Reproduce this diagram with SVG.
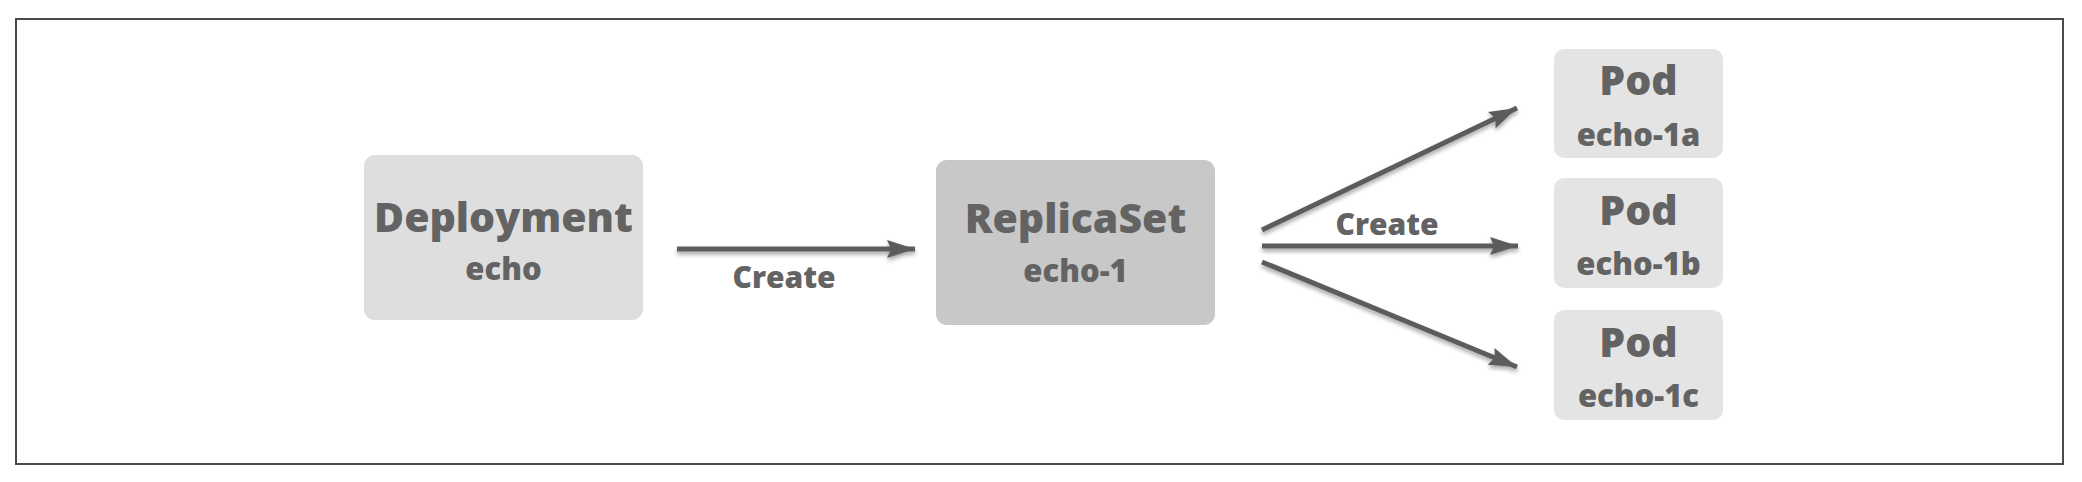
<svg xmlns="http://www.w3.org/2000/svg" width="2082" height="482" viewBox="0 0 2082 482">
<defs>
<style>
.t{font-family:"Open Sans","Liberation Sans",sans-serif;font-weight:800;fill:#636363;text-anchor:middle}
.big{font-size:41px}
.sm{font-size:31px}
.lbl{font-size:30px}
.arr{stroke:#5c5c5c;stroke-width:5;fill:none;marker-end:url(#ah);filter:url(#sh)}
</style>
<marker id="ah" markerUnits="userSpaceOnUse" markerWidth="30" markerHeight="20" refX="28" refY="10" orient="auto" viewBox="0 0 30 20">
<path d="M0,1 L28,10 L0,19 L4,10 Z" fill="#5c5c5c"/>
</marker>
<filter id="sh" filterUnits="userSpaceOnUse" x="0" y="0" width="2082" height="482">
<feGaussianBlur in="SourceAlpha" stdDeviation="2"/>
<feOffset dx="0" dy="3" result="b"/>
<feComponentTransfer><feFuncA type="linear" slope="0.35"/></feComponentTransfer>
<feMerge><feMergeNode/><feMergeNode in="SourceGraphic"/></feMerge>
</filter>
</defs>
<rect x="0" y="0" width="2082" height="482" fill="#ffffff"/>
<rect x="16" y="19" width="2047" height="445" fill="none" stroke="#4a4a4a" stroke-width="2"/>
<g id="deployment">
<rect x="364" y="155" width="279" height="165" rx="11" fill="#dedede"/>
<text class="t big" x="503.5" y="232">Deployment</text>
<text class="t sm" x="503.5" y="280">echo</text>
</g>
<g id="replicaset">
<rect x="936" y="160" width="279" height="165" rx="11" fill="#c8c8c8"/>
<text class="t big" x="1075.5" y="233">ReplicaSet</text>
<text class="t sm" x="1075.5" y="282">echo-1</text>
</g>
<g id="pod-a">
<rect x="1554" y="49" width="169" height="109" rx="10" fill="#e4e4e4"/>
<text class="t big" x="1638.5" y="95">Pod</text>
<text class="t sm" x="1638.5" y="146">echo-1a</text>
</g>
<g id="pod-b">
<rect x="1554" y="178" width="169" height="110" rx="10" fill="#e4e4e4"/>
<text class="t big" x="1638.5" y="225">Pod</text>
<text class="t sm" x="1638.5" y="275">echo-1b</text>
</g>
<g id="pod-c">
<rect x="1554" y="310" width="169" height="110" rx="10" fill="#e4e4e4"/>
<text class="t big" x="1638.5" y="357">Pod</text>
<text class="t sm" x="1638.5" y="407">echo-1c</text>
</g>
<g id="connectors">
<line class="arr" x1="677" y1="249" x2="915" y2="249"/>
<text class="t lbl" x="784" y="288">Create</text>
<line class="arr" x1="1262" y1="230" x2="1517" y2="108"/>
<line class="arr" x1="1262" y1="246" x2="1518" y2="246"/>
<line class="arr" x1="1262" y1="262" x2="1517" y2="367"/>
<text class="t lbl" x="1387" y="235">Create</text>
</g>
</svg>
